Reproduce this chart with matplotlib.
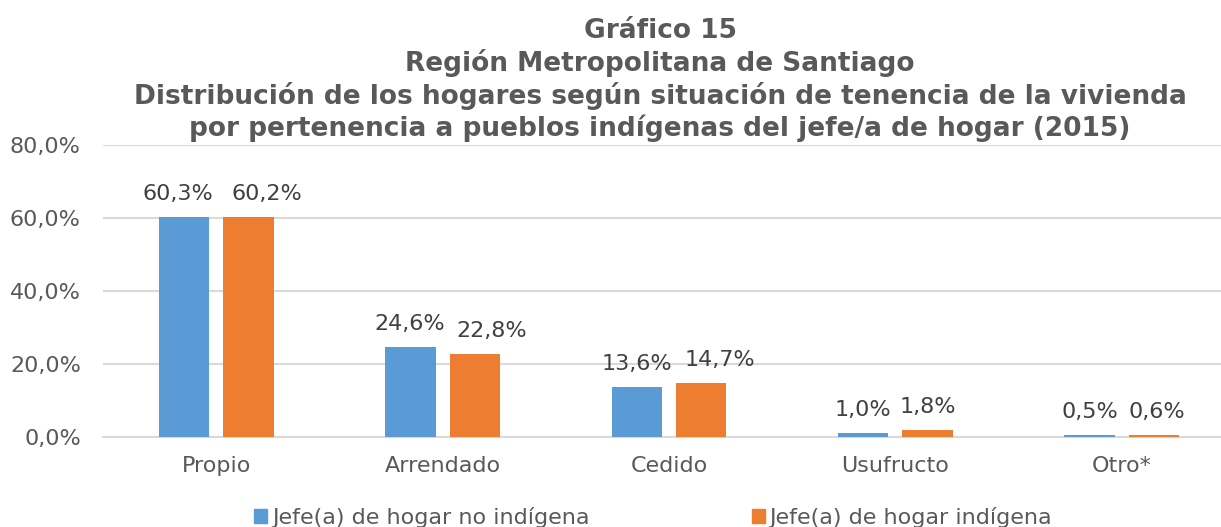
import numpy as np
import matplotlib
matplotlib.use("Agg")
import matplotlib.pyplot as plt
from matplotlib.patches import Patch

# Data
categorias = ["Propio", "Arrendado", "Cedido", "Usufructo", "Otro*"]
no_indigena = [60.3, 24.6, 13.6, 1.0, 0.5]
indigena = [60.2, 22.8, 14.7, 1.8, 0.6]
series_names = ["Jefe(a) de hogar no indígena", "Jefe(a) de hogar indígena"]
yticks = [0, 20, 40, 60, 80]

titulo = ("Gráfico 15\n"
          "Región Metropolitana de Santiago\n"
          "Distribución de los hogares según situación de tenencia de la vivienda\n"
          "por pertenencia a pueblos indígenas del jefe/a de hogar (2015)")

c_blue = "#5B9BD5"
c_orange = "#ED7D31"
c_text = "#595959"
c_lab = "#404040"
c_grid = "#D9D9D9"
fs = 16

# label nudges in pixels (Excel moved some labels apart)
dx_blue = [-6.5, -0.5, 0, 0, 0]
dx_orange = [19, 16.5, 19, 0, 2.5]

plt.rcParams["font.family"] = "DejaVu Sans"

W, H = 1221, 527
fig = plt.figure(figsize=(W/100, H/100), dpi=100)
# axes in pixel coords: left 103, right 1221, top 145, bottom 437
ax = fig.add_axes([103/W, 1-437/H, (W-103)/W, (437-145)/H])

x = np.arange(len(categorias))
bw = 0.223
off = 0.142
b1 = ax.bar(x-off, no_indigena, bw, color=c_blue, zorder=3)
b2 = ax.bar(x+off, indigena, bw, color=c_orange, zorder=3)

for bars, vals, dxs in [(b1, no_indigena, dx_blue), (b2, indigena, dx_orange)]:
    for r, v, dx in zip(bars, vals, dxs):
        ax.annotate(f"{v:.1f}%".replace(".", ","),
                    (r.get_x()+r.get_width()/2, v), xytext=(dx, 17),
                    textcoords="offset pixels", ha="center", va="baseline",
                    fontsize=fs, color=c_lab)

ax.set_ylim(0, 80)
ax.set_xlim(-0.5, 4.5 - 14/226.5)
ax.set_yticks(yticks)
ax.set_yticklabels([f"{t:.1f}%".replace(".", ",") for t in yticks],
                   fontsize=fs, color=c_text)
ax.set_xticks(x)
ax.set_xticklabels(categorias, fontsize=fs, color=c_text)
ax.tick_params(axis="both", length=0)
ax.tick_params(axis="y", pad=16)
ax.tick_params(axis="x", pad=14)
ax.grid(axis="y", color=c_grid, lw=1.5, zorder=0)
for s in ["top", "right", "left"]:
    ax.spines[s].set_visible(False)
ax.spines["bottom"].set_color(c_grid)
ax.spines["bottom"].set_linewidth(1.5)

fig.text(660/W, 1-18/H, titulo, ha="center", va="top", fontsize=19,
         fontweight="bold", color=c_text, linespacing=1.22)

handles = [Patch(color=c_blue), Patch(color=c_orange)]
fig.legend(handles, series_names, loc="center", bbox_to_anchor=(653/W, 1-517/H),
           ncol=2, frameon=False, fontsize=fs, handlelength=0.6, handleheight=0.6,
           handletextpad=0.2, columnspacing=7.3, labelcolor=c_text)

plt.savefig("out.png", dpi=100)
